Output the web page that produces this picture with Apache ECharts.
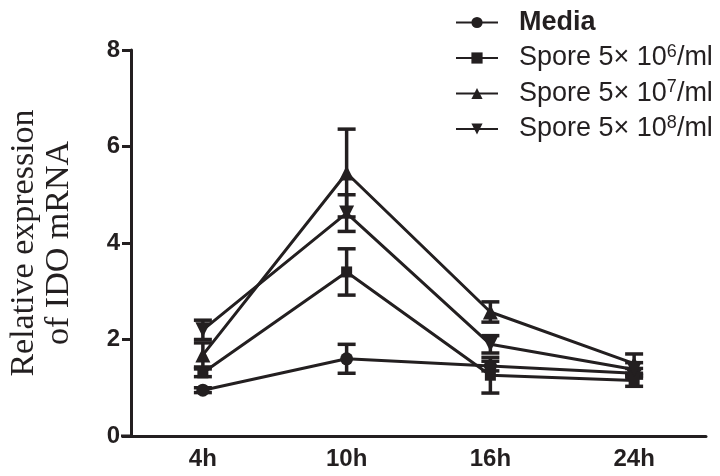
<!DOCTYPE html>
<html>
<head>
<meta charset="utf-8">
<script src="https://cdn.jsdelivr.net/npm/echarts@6/dist/echarts.min.js"></script>
<style>html,body{margin:0;padding:0;background:#fff;}#c{width:720px;height:476px;}</style>
</head>
<body>
<div id="c"></div>
<script>
const categories = ['4h', '10h', '16h', '24h'];
const yTicks = [0, 2, 4, 6, 8];
const seriesNames = ['Media', 'Spore 5× 10^6/ml', 'Spore 5× 10^7/ml', 'Spore 5× 10^8/ml'];
const mediaMean = [0.95, 1.60, 1.45, 1.30];
const mediaErr = [0.05, 0.30, 0.10, 0.10];
const spore6Mean = [1.31, 3.40, 1.26, 1.15];
const spore6Err = [0.08, 0.48, 0.37, 0.12];
const spore7Mean = [1.68, 5.45, 2.57, 1.50];
const spore7Err = [0.25, 0.91, 0.21, 0.20];
const spore8Mean = [2.20, 4.62, 1.90, 1.38];
const spore8Err = [0.20, 0.38, 0.18, 0.14];

const INK = '#231f20';
const means = [mediaMean, spore6Mean, spore7Mean, spore8Mean];
const errs = [mediaErr, spore6Err, spore7Err, spore8Err];
const symbols = ['circle', 'rect', 'triangle', 'path://M0,0 L10,0 L5,10 Z'];
const sizes = [13, 11, 15, 15];

function legendLabel(name) {
  if (name === 'Media') return '{b|Media}';
  const m = name.match(/^(.*10)\^(\d)(.*)$/);
  return '{p|' + m[1] + '}{s|' + m[2] + '}{n|' + m[3] + '}';
}

const series = [];
means.forEach((arr, i) => {
  series.push({
    name: seriesNames[i],
    type: 'line',
    data: arr,
    symbol: symbols[i],
    symbolSize: sizes[i],
    lineStyle: { color: INK, width: 3 },
    itemStyle: { color: INK },
    z: 3
  });
  series.push({
    name: seriesNames[i] + ' err',
    type: 'custom',
    data: arr.map((v, j) => [j, v - errs[i][j], v + errs[i][j]]),
    renderItem: function (params, api) {
      const x = api.value(0);
      const lo = api.coord([x, api.value(1)]);
      const hi = api.coord([x, api.value(2)]);
      const w = 9;
      const st = { stroke: INK, lineWidth: 3.5 };
      return {
        type: 'group',
        children: [
          { type: 'line', shape: { x1: hi[0], y1: hi[1], x2: lo[0], y2: lo[1] }, style: st },
          { type: 'line', shape: { x1: hi[0] - w, y1: hi[1], x2: hi[0] + w, y2: hi[1] }, style: st },
          { type: 'line', shape: { x1: lo[0] - w, y1: lo[1], x2: lo[0] + w, y2: lo[1] }, style: st }
        ]
      };
    },
    z: 2
  });
});

const chart = echarts.init(document.getElementById('c'), null, { renderer: 'canvas' });
chart.setOption({
  animation: false,
  backgroundColor: '#fff',
  grid: { left: 131, right: 14, top: 50, bottom: 40, containLabel: false, outerBoundsMode: 'none' },
  legend: {
    data: seriesNames,
    orient: 'vertical',
    left: 450,
    top: 4,
    itemWidth: 42,
    itemHeight: 14,
    itemGap: 7,
    formatter: legendLabel,
    textStyle: {
      color: INK,
      fontFamily: 'Liberation Sans',
      rich: {
        b: { fontSize: 27, lineHeight: 30, fontWeight: 'bold', color: INK, fontFamily: 'Liberation Sans', padding: [0, 0, 0, 16] },
        p: { fontSize: 27, lineHeight: 30, color: INK, fontFamily: 'Liberation Sans', padding: [0, 0, 0, 16] },
        n: { fontSize: 27, lineHeight: 30, color: INK, fontFamily: 'Liberation Sans' },
        s: { fontSize: 18, lineHeight: 30, color: INK, fontFamily: 'Liberation Sans', verticalAlign: 'top', padding: [0, 0, 10, 0] }
      }
    }
  },
  xAxis: {
    type: 'category',
    data: categories,
    axisLine: { lineStyle: { color: INK, width: 3 } },
    axisTick: { alignWithLabel: true, length: 9, lineStyle: { color: INK, width: 3 } },
    axisLabel: { color: INK, fontSize: 24, fontWeight: 'bold', fontFamily: 'Liberation Sans', margin: 11 }
  },
  yAxis: {
    type: 'value',
    min: 0,
    max: 8,
    interval: 2,
    name: 'Relative expression\nof IDO mRNA',
    nameLocation: 'middle',
    nameGap: 54,
    nameTextStyle: { color: INK, fontSize: 34, fontFamily: 'Liberation Serif', lineHeight: 35 },
    splitLine: { show: false },
    axisLine: { show: true, lineStyle: { color: INK, width: 3 } },
    axisTick: { show: true, length: 9, lineStyle: { color: INK, width: 3 } },
    axisLabel: {
      color: INK, fontSize: 24, fontWeight: 'bold', fontFamily: 'Liberation Sans', margin: 11,
      formatter: v => (yTicks.indexOf(v) >= 0 ? String(v) : '')
    }
  },
  graphic: [{
    type: 'line',
    shape: { x1: 121, y1: 436, x2: 132, y2: 436 },
    style: { stroke: INK, lineWidth: 3 }
  }],
  series: series
});
</script>
</body>
</html>
